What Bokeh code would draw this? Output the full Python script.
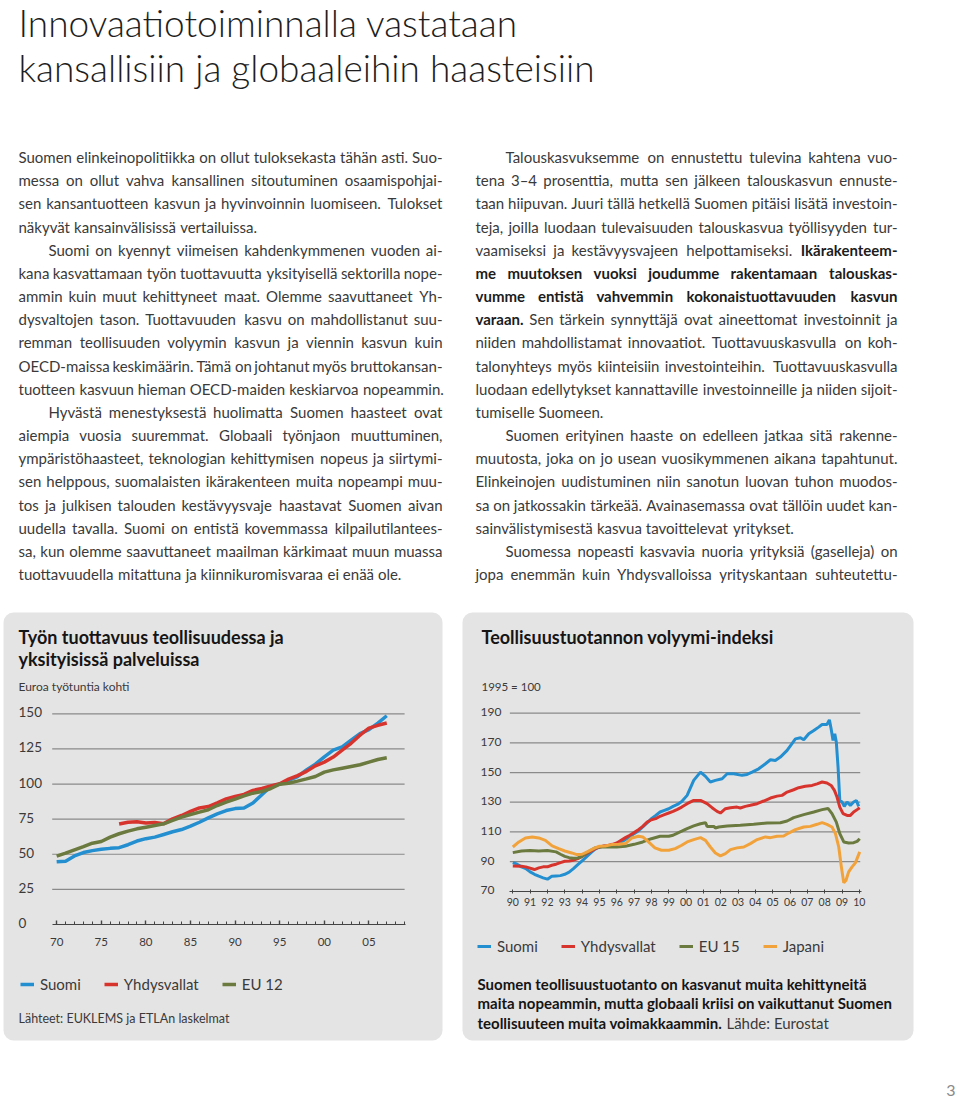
import glob
import struct
from bokeh.plotting import figure
from bokeh.models import (Range1d, LinearAxis, FixedTicker, BoxAnnotation, Legend, LegendItem,
                          ColumnDataSource)
from bokeh.core.properties import value
from bokeh.embed import file_html
from bokeh.resources import INLINE

# ---------------- data: chart 1 (annual) ----------------
prod_years = list(range(1970, 2008))
prod_suomi = [44.6, 45.1, 48.8, 51.2, 52.6, 53.5, 54.2, 54.7, 56.8, 59.4,
              61.1, 62.2, 64.1, 66.0, 67.6, 70.0, 72.8, 75.9, 78.7, 81.1,
              82.5, 82.9, 86.5, 92.4, 98.2, 99.9, 102.5, 105.3, 110.0, 114.2,
              119.4, 124.1, 126.5, 131.2, 135.9, 138.7, 143.4, 148.6]
prod_us_years = list(range(1977, 2008))
prod_us = [71.5, 72.8, 73.2, 72.3, 72.6, 71.8, 75.2, 77.6, 80.5, 83.0,
           84.0, 86.6, 89.4, 91.1, 92.6, 95.5, 96.8, 98.6, 100.2, 103.5,
           106.0, 109.0, 113.0, 115.6, 119.2, 124.2, 129.0, 134.8, 139.8, 141.8, 143.4]
prod_eu12 = [48.7, 50.8, 53.2, 55.5, 57.9, 59.1, 62.2, 64.6, 66.5, 68.1,
             69.3, 70.5, 71.7, 74.1, 76.4, 78.3, 80.0, 81.7, 84.7, 87.1,
             89.2, 91.6, 93.5, 94.7, 96.8, 99.9, 100.6, 102.1, 103.7, 105.4,
             108.5, 110.1, 111.3, 112.5, 113.7, 115.6, 117.5, 118.7]
c1_y_ticks = [0, 25, 50, 75, 100, 125, 150]
c1_y_labels = ["0", "25", "50", "75", "100", "125", "150"]
c1_x_ticks = [1970, 1975, 1980, 1985, 1990, 1995, 2000, 2005]
c1_x_labels = ["70", "75", "80", "85", "90", "95", "00", "05"]
c1_x_minor = list(range(1970, 2010))

# ---------------- data: chart 2 (volume index) ----------------
fi_t = [1990.0, 1990.25, 1990.5, 1990.75, 1991.0, 1991.25, 1991.5, 1991.75, 1992.0, 1992.25,
        1992.5, 1992.75, 1993.0, 1993.25, 1993.5, 1993.75, 1994.0, 1994.25, 1994.5, 1994.75,
        1995.0, 1995.25, 1995.5, 1995.75, 1996.0, 1996.25, 1996.5, 1996.75, 1997.0, 1997.25,
        1997.5, 1997.75, 1998.0, 1998.25, 1998.5, 1998.75, 1999.0, 1999.25, 1999.5, 1999.75,
        2000.06, 2000.44, 2000.83, 2001.12, 2001.4, 2001.69, 2002.08, 2002.37, 2002.75, 2003.23,
        2003.52, 2003.81, 2004.19, 2004.58, 2004.87, 2005.15, 2005.44, 2005.83, 2006.31, 2006.6,
        2006.79, 2007.08, 2007.37, 2007.65, 2007.85, 2008.13, 2008.27, 2008.37, 2008.48, 2008.58,
        2008.67, 2008.77, 2008.87, 2009.0, 2009.13, 2009.29, 2009.48, 2009.67, 2009.83, 2009.96]
fi_v = [89.3, 88.2, 86.4, 85.2, 83.0, 81.4, 80.1, 79.0, 78.1, 80.1,
        80.3, 80.5, 81.4, 82.8, 85.2, 87.9, 90.4, 93.1, 95.8, 98.3,
        99.8, 100.3, 100.5, 100.9, 101.6, 103.2, 104.8, 106.6, 108.8, 110.6,
        113.3, 116.0, 118.9, 121.1, 123.4, 124.5, 125.6, 127.2, 128.5, 130.5,
        134.6, 144.7, 150.3, 147.4, 143.6, 144.7, 145.8, 149.2, 149.2, 148.1,
        148.7, 150.3, 152.5, 155.9, 158.6, 158.1, 160.4, 164.9, 172.7, 173.4,
        172.1, 176.1, 178.3, 180.6, 182.4, 182.4, 185.5, 179.5, 171.6, 176.1,
        170.5, 153.7, 131.2, 130.1, 127.2, 130.1, 127.9, 130.1, 131.2, 127.2]
us_t = [1990.0, 1990.5, 1990.75, 1991.25, 1991.5, 1991.75, 1992.0, 1992.25, 1992.5, 1992.75,
        1993.0, 1993.25, 1993.5, 1993.75, 1994.0, 1994.25, 1994.5, 1994.75, 1995.0, 1995.25,
        1995.5, 1995.75, 1996.0, 1996.25, 1996.5, 1996.75, 1997.0, 1997.25, 1997.5, 1997.75,
        1998.0, 1998.25, 1998.5, 1998.75, 1999.0, 1999.25, 1999.5, 1999.75, 2000.06, 2000.44,
        2000.83, 2001.21, 2001.5, 2001.79, 2001.98, 2002.27, 2002.56, 2002.94, 2003.13, 2003.42,
        2003.71, 2004.1, 2004.48, 2004.87, 2005.25, 2005.54, 2005.83, 2006.21, 2006.5, 2006.88,
        2007.27, 2007.56, 2007.85, 2008.13, 2008.37, 2008.56, 2008.71, 2008.87, 2009.06, 2009.29,
        2009.48, 2009.67, 2009.87, 2010.02]
us_v = [87.0, 86.8, 86.4, 84.6, 85.7, 86.4, 86.4, 87.5, 88.2, 89.3,
        90.2, 90.4, 90.9, 92.0, 93.5, 95.3, 96.9, 98.7, 99.8, 100.5,
        100.9, 101.6, 102.5, 104.3, 106.1, 107.7, 109.5, 111.5, 113.7, 116.6,
        118.2, 118.9, 120.5, 121.6, 122.7, 123.8, 125.2, 126.7, 129.0, 131.2,
        131.2, 129.0, 126.3, 123.8, 122.7, 125.6, 126.3, 126.7, 126.1, 127.2,
        127.9, 129.0, 130.8, 132.8, 134.1, 134.6, 136.8, 138.4, 139.8, 140.7,
        141.3, 142.4, 143.6, 142.9, 141.3, 138.0, 133.5, 126.7, 122.3, 121.1,
        121.1, 123.4, 125.0, 126.3]
eu_t = [1990.0, 1990.5, 1991.0, 1991.5, 1992.0, 1992.5, 1992.75, 1993.0, 1993.25, 1993.5,
        1993.75, 1994.0, 1994.25, 1994.5, 1994.75, 1995.0, 1995.5, 1996.0, 1996.5, 1997.0,
        1997.5, 1998.0, 1998.5, 1999.0, 1999.25, 1999.5, 1999.75, 2000.06, 2000.44, 2000.83,
        2001.12, 2001.21, 2001.6, 2001.69, 2001.88, 2002.37, 2003.13, 2003.9, 2004.67, 2005.44,
        2005.83, 2006.21, 2006.79, 2007.37, 2007.85, 2008.19, 2008.42, 2008.67, 2008.87, 2009.1,
        2009.38, 2009.67, 2009.87, 2010.02]
eu_v = [96.0, 97.1, 97.4, 97.1, 97.4, 96.5, 94.9, 93.5, 92.6, 92.2,
        92.4, 93.5, 95.8, 97.6, 99.2, 99.8, 99.8, 99.8, 100.3, 101.6,
        103.2, 105.4, 107.0, 107.0, 107.7, 109.2, 110.5, 112.2, 114.0, 115.5,
        116.2, 113.7, 113.7, 112.6, 113.3, 114.0, 114.4, 115.1, 116.0, 116.2,
        117.3, 119.6, 121.6, 123.4, 125.0, 125.8, 122.3, 116.6, 108.8, 103.2,
        102.5, 102.7, 103.6, 105.4]
jp_t = [1990.0, 1990.35, 1990.73, 1991.12, 1991.5, 1991.88, 1992.27, 1992.65, 1993.0, 1993.4,
        1993.7, 1994.0, 1994.35, 1994.75, 1995.0, 1995.33, 1995.7, 1996.1, 1996.5, 1996.87,
        1997.25, 1997.5, 1997.83, 1998.2, 1998.58, 1999.0, 1999.37, 1999.75, 2000.06, 2000.44,
        2000.83, 2001.12, 2001.4, 2001.69, 2001.98, 2002.27, 2002.56, 2002.94, 2003.33, 2003.71,
        2004.1, 2004.58, 2004.87, 2005.25, 2005.63, 2005.92, 2006.31, 2006.79, 2007.17, 2007.56,
        2007.85, 2008.13, 2008.42, 2008.62, 2008.81, 2008.96, 2009.1, 2009.23, 2009.38, 2009.58,
        2009.77, 2010.02]
jp_v = [99.8, 103.2, 105.9, 106.6, 105.9, 104.3, 100.5, 98.7, 97.1, 95.8,
        94.7, 94.9, 96.9, 99.2, 100.3, 100.5, 101.4, 101.6, 102.1, 105.9,
        107.0, 106.6, 103.2, 99.2, 97.6, 97.6, 98.7, 101.0, 103.2, 104.8,
        106.1, 104.3, 99.8, 95.8, 93.8, 95.3, 98.0, 99.2, 99.8, 102.1,
        104.8, 106.6, 106.1, 107.0, 107.2, 109.2, 111.5, 113.3, 113.7, 115.1,
        116.2, 115.1, 113.3, 108.8, 99.8, 86.4, 75.6, 77.4, 83.0, 86.4,
        89.1, 96.5]
c2_y_ticks = [70, 90, 110, 130, 150, 170, 190]
c2_y_labels = ["70", "90", "110", "130", "150", "170", "190"]
c2_x_ticks = list(range(1990, 2011))
c2_x_labels = ["90", "91", "92", "93", "94", "95", "96", "97", "98", "99",
               "00", "01", "02", "03", "04", "05", "06", "07", "08", "09", "10"]

# ---------------- texts (words between * are bold) ----------------
page_title = ["Innovaatiotoiminnalla vastataan",
              "kansallisiin ja globaaleihin haasteisiin"]
left_col = [
    "Suomen elinkeinopolitiikka on ollut tuloksekasta tähän asti. Suo-",
    "messa on ollut vahva kansallinen sitoutuminen osaamispohjai-",
    "sen kansantuotteen kasvun ja hyvinvoinnin luomiseen. Tulokset",
    "näkyvät kansainvälisissä vertailuissa.",
    "Suomi on kyennyt viimeisen kahdenkymmenen vuoden ai-",
    "kana kasvattamaan työn tuottavuutta yksityisellä sektorilla nope-",
    "ammin kuin muut kehittyneet maat. Olemme saavuttaneet Yh-",
    "dysvaltojen tason. Tuottavuuden kasvu on mahdollistanut suu-",
    "remman teollisuuden volyymin kasvun ja viennin kasvun kuin",
    "OECD-maissa keskimäärin. Tämä on johtanut myös bruttokansan-",
    "tuotteen kasvuun hieman OECD-maiden keskiarvoa nopeammin.",
    "Hyvästä menestyksestä huolimatta Suomen haasteet ovat",
    "aiempia vuosia suuremmat. Globaali työnjaon muuttuminen,",
    "ympäristöhaasteet, teknologian kehittymisen nopeus ja siirtymi-",
    "sen helppous, suomalaisten ikärakenteen muita nopeampi muu-",
    "tos ja julkisen talouden kestävyysvaje haastavat Suomen aivan",
    "uudella tavalla. Suomi on entistä kovemmassa kilpailutilantees-",
    "sa, kun olemme saavuttaneet maailman kärkimaat muun muassa",
    "tuottavuudella mitattuna ja kiinnikuromisvaraa ei enää ole.",
]
left_indent = [4, 11]
left_final = [3, 10, 18]
right_col = [
    "Talouskasvuksemme on ennustettu tulevina kahtena vuo-",
    "tena 3–4 prosenttia, mutta sen jälkeen talouskasvun ennuste-",
    "taan hiipuvan. Juuri tällä hetkellä Suomen pitäisi lisätä investoin-",
    "teja, joilla luodaan tulevaisuuden talouskasvua työllisyyden tur-",
    "vaamiseksi ja kestävyysvajeen helpottamiseksi. *Ikärakenteem-*",
    "*me muutoksen vuoksi joudumme rakentamaan talouskas-*",
    "*vumme entistä vahvemmin kokonaistuottavuuden kasvun*",
    "*varaan.* Sen tärkein synnyttäjä ovat aineettomat investoinnit ja",
    "niiden mahdollistamat innovaatiot. Tuottavuuskasvulla on koh-",
    "talonyhteys myös kiinteisiin investointeihin. Tuottavuuskasvulla",
    "luodaan edellytykset kannattaville investoinneille ja niiden sijoit-",
    "tumiselle Suomeen.",
    "Suomen erityinen haaste on edelleen jatkaa sitä rakenne-",
    "muutosta, joka on jo usean vuosikymmenen aikana tapahtunut.",
    "Elinkeinojen uudistuminen niin sanotun luovan tuhon muodos-",
    "sa on jatkossakin tärkeää. Avainasemassa ovat tällöin uudet kan-",
    "sainvälistymisestä kasvua tavoittelevat yritykset.",
    "Suomessa nopeasti kasvavia nuoria yrityksiä (gaselleja) on",
    "jopa enemmän kuin Yhdysvalloissa yrityskantaan suhteutettu-",
]
right_indent = [0, 12, 17]
right_final = [11, 16]

c1_title = ["Työn tuottavuus teollisuudessa ja", "yksityisissä palveluissa"]
c1_sub = "Euroa työtuntia kohti"
c1_series = ["Suomi", "Yhdysvallat", "EU 12"]
c1_source = "Lähteet: EUKLEMS ja ETLAn laskelmat"
c2_title = "Teollisuustuotannon volyymi-indeksi"
c2_sub = "1995 = 100"
c2_series = ["Suomi", "Yhdysvallat", "EU 15", "Japani"]
c2_caption = ["Suomen teollisuustuotanto on kasvanut muita kehittyneitä",
              "maita nopeammin, mutta globaali kriisi on vaikuttanut  Suomen",
              "teollisuuteen muita voimakkaammin."]
c2_caption_tail = "Lähde: Eurostat"
page_no = "3"

# ---------------- font metrics (for justified text) ----------------
def _load_advances(names):
    paths = []
    for pat in ["/usr/share/fonts/**/", "/usr/local/share/fonts/**/"]:
        for n in names:
            paths += glob.glob(pat + n, recursive=True)
    if not paths:
        return None
    try:
        data = open(paths[0], "rb").read()
        num = struct.unpack(">H", data[4:6])[0]
        tabs = {}
        for i in range(num):
            tag, _, off, ln = struct.unpack(">4sIII", data[12 + 16 * i: 28 + 16 * i])
            tabs[tag.decode("latin1")] = off
        upem = struct.unpack(">H", data[tabs["head"] + 18: tabs["head"] + 20])[0]
        nhm = struct.unpack(">H", data[tabs["hhea"] + 34: tabs["hhea"] + 36])[0]
        ho = tabs["hmtx"]
        adv = [struct.unpack(">H", data[ho + 4 * i: ho + 4 * i + 2])[0] for i in range(nhm)]
        co = tabs["cmap"]
        nsub = struct.unpack(">H", data[co + 2: co + 4])[0]
        seg = None
        for i in range(nsub):
            pid, eid, so = struct.unpack(">HHI", data[co + 4 + 8 * i: co + 12 + 8 * i])
            st = co + so
            fmt = struct.unpack(">H", data[st: st + 2])[0]
            if fmt == 4 and pid in (0, 3):
                sx2 = struct.unpack(">H", data[st + 6: st + 8])[0]
                n = sx2 // 2
                ends = struct.unpack(">%dH" % n, data[st + 14: st + 14 + sx2])
                starts = struct.unpack(">%dH" % n, data[st + 16 + sx2: st + 16 + 2 * sx2])
                deltas = struct.unpack(">%dh" % n, data[st + 16 + 2 * sx2: st + 16 + 3 * sx2])
                rpos = st + 16 + 3 * sx2
                ros = struct.unpack(">%dH" % n, data[rpos: rpos + sx2])
                seg = (ends, starts, deltas, ros, rpos)
                break
        if seg is None:
            return None
        ends, starts, deltas, ros, rpos = seg

        def gid(c):
            for s in range(len(ends)):
                if c <= ends[s]:
                    if c < starts[s]:
                        return 0
                    if ros[s] == 0:
                        return (c + deltas[s]) & 0xFFFF
                    a = rpos + 2 * s + ros[s] + 2 * (c - starts[s])
                    g = struct.unpack(">H", data[a: a + 2])[0]
                    return (g + deltas[s]) & 0xFFFF if g else 0
            return 0
        cache = {}

        def em(ch):
            if ch not in cache:
                g = gid(ord(ch))
                cache[ch] = adv[min(g, nhm - 1)] / upem
            return cache[ch]
        return em
    except Exception:
        return None


_em_reg = _load_advances(["Lato-Regular.ttf", "Lato-Regular.otf"])
_em_bold = _load_advances(["Lato-Bold.ttf", "Lato-Bold.otf"])


def measure(text, size, bold=False):
    f = _em_bold if bold else _em_reg
    if f is None:
        return len(text) * size * (0.52 if bold else 0.49)
    return sum(f(c) for c in text) * size


TXT = "#3a3a3a"


def justify(lines, indents, finals, left, right, indent_px, size, y0, lh):
    recs = {"x": [], "y": [], "text": [], "align": [], "style": [], "color": []}
    for i, line in enumerate(lines):
        words, bold = [], False
        for tok in line.split(" "):
            if tok == "":
                continue
            b = bold
            if tok.startswith("*"):
                tok, b, bold = tok[1:], True, True
            if tok.endswith("*"):
                tok, bold = tok[:-1], False
            words.append((tok, b))
        if not words:
            continue
        x0 = left + (indent_px if i in indents else 0)
        ws = [measure(t, size, b) for t, b in words]
        just = i not in finals and len(words) > 1
        gap = (right - x0 - sum(ws)) / (len(words) - 1) if just else measure(" ", size)
        x = x0
        for j, ((t, b), w) in enumerate(zip(words, ws)):
            last = just and j == len(words) - 1
            recs["x"].append(right if last else x)
            recs["y"].append(y0 + i * lh)
            recs["text"].append(t)
            recs["align"].append("right" if last else "left")
            recs["style"].append("bold" if b else "normal")
            recs["color"].append("#1c1c1c" if b else TXT)
            x += w + gap
    return recs


# ---------------- styling / layout ----------------
FONT_NAME = "Lato"
FONT = value(FONT_NAME)
LIGHT = value("Lato Light, Lato")
BLUE, RED, GREEN, ORANGE = "#238fd0", "#d8342e", "#6b7a3f", "#f2a23a"
PANEL = "#e5e4e4"
GRID = "#8a8a8a"

W, H = 960, 1103
FX0, FX1, FY0, FY1 = 0, 960, 0, 1103   # page pixel extents of the canvas


def ext_range(d0, d1, p0, p1, f0, f1):
    s = (d1 - d0) / (p1 - p0)
    return Range1d(d0 + (f0 - p0) * s, d0 + (f1 - p0) * s)


p = figure(width=W, height=H, x_range=Range1d(FX0, FX1), y_range=Range1d(FY1, FY0),
           x_axis_type=None, y_axis_type=None, toolbar_location=None,
           output_backend="svg", min_border=0, outline_line_color=None,
           background_fill_color="white", border_fill_color="white")

# chart areas (data bounds -> page pixels)
C1X = (1969.5, 2009.1, 51.7, 405.0)
C1Y = (0, 150, 924.0, 713.3)
C2X = (1989.83, 2010.1, 509.35, 860.6)
C2Y = (70, 190, 890.7, 712.7)
p.extra_x_ranges = {"c1x": ext_range(*C1X, FX0, FX1), "c2x": ext_range(*C2X, FX0, FX1)}
p.extra_y_ranges = {"c1y": ext_range(*C1Y, FY1, FY0), "c2y": ext_range(*C2Y, FY1, FY0)}

# panels
for l, r in [(3, 442), (462, 913)]:
    p.add_layout(BoxAnnotation(left=l, right=r, top=612, bottom=1040, fill_color=PANEL,
                               fill_alpha=1, line_color=None, border_radius=10, level="underlay"))

# page title
p.text(x=[18, 18], y=[22, 67], text=page_title, text_font=LIGHT, text_font_size="37px",
       text_color="#1e1e1e", text_baseline="alphabetic")

# body columns (justified)
LH = 23.17
BASE = 156.5
BODY_PX = 15
for lines, ind, fin, l, r in [(left_col, left_indent, left_final, 18, 442),
                              (right_col, right_indent, right_final, 475, 897)]:
    src = ColumnDataSource(justify(lines, ind, fin, l, r, 30, BODY_PX, BASE, LH))
    p.text(x="x", y="y", text="text", source=src, text_align="align",
           text_font_style="style", text_color="color", text_font=FONT,
           text_font_size="%dpx" % BODY_PX, text_baseline="alphabetic")

# ---------------- chart 1 ----------------
p.text(x=[18, 18], y=[636.5, 658.5], text=c1_title, text_font=FONT, text_font_style="bold",
       text_font_size="18px", text_color="#151515", text_baseline="alphabetic")
p.text(x=[18], y=[686], text=[c1_sub], text_font=FONT, text_font_size="12px",
       text_color=TXT, text_baseline="alphabetic")
p.segment(x0=[C1X[0]] * 6, x1=[2009.0] * 6, y0=c1_y_ticks[1:], y1=c1_y_ticks[1:],
          x_range_name="c1x", y_range_name="c1y", line_color=GRID, line_width=1.2)
p.text(x=[18] * len(c1_y_ticks), y=c1_y_ticks, text=c1_y_labels, y_range_name="c1y",
       text_font=FONT, text_font_size="13.5px", text_color=TXT, text_baseline="middle",
       y_offset=-1.5)
ax1 = LinearAxis(x_range_name="c1x", y_range_name="c1y", fixed_location=0,
                 bounds=(C1X[0], C1X[1]),
                 ticker=FixedTicker(ticks=c1_x_ticks, minor_ticks=c1_x_minor),
                 major_label_overrides=dict(zip(c1_x_ticks, c1_x_labels)),
                 axis_line_color="#444444", axis_line_width=1.2,
                 major_tick_in=4, major_tick_out=0, major_tick_line_color="#444444",
                 major_tick_line_width=1.4,
                 minor_tick_in=3, minor_tick_out=0, minor_tick_line_color="#444444",
                 major_label_standoff=13, major_label_text_font=FONT_NAME,
                 major_label_text_font_size="11.5px", major_label_text_color=TXT)
p.add_layout(ax1, "below")
r1 = p.line(prod_years, prod_suomi, x_range_name="c1x", y_range_name="c1y",
            line_color=BLUE, line_width=3.5)
r2 = p.line(prod_us_years, prod_us, x_range_name="c1x", y_range_name="c1y",
            line_color=RED, line_width=3.5)
r3 = p.line(prod_years, prod_eu12, x_range_name="c1x", y_range_name="c1y",
            line_color=GREEN, line_width=3.5)
leg1 = Legend(items=[LegendItem(label=value(s), renderers=[r]) for s, r in zip(c1_series, [r1, r2, r3])],
              location=(20, 110), orientation="horizontal", glyph_width=14, glyph_height=14,
              label_standoff=6, spacing=23, padding=0, margin=0, border_line_color=None,
              background_fill_alpha=0, label_text_font=FONT_NAME, label_text_font_size="15px",
              label_text_color=TXT)
p.add_layout(leg1, "center")
p.text(x=[18], y=[1018], text=[c1_source], text_font=FONT, text_font_size="12.5px",
       text_color=TXT, text_baseline="alphabetic")

# ---------------- chart 2 ----------------
p.text(x=[481], y=[636.5], text=[c2_title], text_font=FONT, text_font_style="bold",
       text_font_size="18px", text_color="#151515", text_baseline="alphabetic")
p.text(x=[481], y=[686], text=[c2_sub], text_font=FONT, text_font_size="11.5px",
       text_color=TXT, text_baseline="alphabetic")
p.segment(x0=[C2X[0]] * 6, x1=[C2X[1] - 0.05] * 6, y0=c2_y_ticks[1:], y1=c2_y_ticks[1:],
          x_range_name="c2x", y_range_name="c2y", line_color=GRID, line_width=1.2)
p.text(x=[480] * len(c2_y_ticks), y=c2_y_ticks, text=c2_y_labels, y_range_name="c2y",
       text_font=FONT, text_font_size="12px", text_color=TXT, text_baseline="middle",
       y_offset=-1)
ax2 = LinearAxis(x_range_name="c2x", y_range_name="c2y", fixed_location=70,
                 bounds=(C2X[0], C2X[1]),
                 ticker=FixedTicker(ticks=c2_x_ticks),
                 major_label_overrides=dict(zip(c2_x_ticks, c2_x_labels)),
                 axis_line_color="#444444", axis_line_width=1.2,
                 major_tick_in=2, major_tick_out=2, major_tick_line_color="#444444",
                 minor_tick_line_color=None,
                 major_label_standoff=5, major_label_text_font=FONT_NAME,
                 major_label_text_font_size="10.5px", major_label_text_color=TXT)
p.add_layout(ax2, "below")
s1 = p.line(fi_t, fi_v, x_range_name="c2x", y_range_name="c2y", line_color=BLUE, line_width=3)
s2 = p.line(us_t, us_v, x_range_name="c2x", y_range_name="c2y", line_color=RED, line_width=3)
s3 = p.line(eu_t, eu_v, x_range_name="c2x", y_range_name="c2y", line_color=GREEN, line_width=3)
s4 = p.line(jp_t, jp_v, x_range_name="c2x", y_range_name="c2y", line_color=ORANGE, line_width=3)
leg2 = Legend(items=[LegendItem(label=value(s), renderers=[r]) for s, r in zip(c2_series, [s1, s2, s3, s4])],
              location=(477, 148), orientation="horizontal", glyph_width=14, glyph_height=14,
              label_standoff=6, spacing=23, padding=0, margin=0, border_line_color=None,
              background_fill_alpha=0, label_text_font=FONT_NAME, label_text_font_size="15px",
              label_text_color=TXT)
p.add_layout(leg2, "center")
CAP_PX = 15
CAP_Y = [983.3, 1002.8, 1022.3]
p.text(x=[477] * 3, y=CAP_Y, text=c2_caption, text_font=FONT,
       text_font_style="bold", text_font_size="%dpx" % CAP_PX, text_color="#151515",
       text_baseline="alphabetic")
tail_x = 477 + measure(c2_caption[-1], CAP_PX, True) + measure(" ", CAP_PX)
p.text(x=[tail_x], y=[CAP_Y[-1]], text=[c2_caption_tail], text_font=FONT,
       text_font_size="%dpx" % CAP_PX, text_color=TXT, text_baseline="alphabetic")

# page number
p.text(x=[955], y=[1090], text=[page_no], text_font=FONT, text_font_size="16px",
       text_color="#8a8a8a", text_align="right", text_baseline="alphabetic")

open("out.html", "w").write(file_html(p, INLINE))
